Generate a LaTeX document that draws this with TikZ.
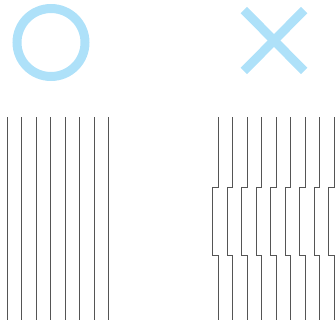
\documentclass[tikz,border=0pt]{standalone}
\definecolor{markblue}{RGB}{174,225,249}
\definecolor{linegray}{RGB}{85,85,85}
\begin{document}
\begin{tikzpicture}[x=1pt,y=-1pt,
  symbolstroke/.style={draw=markblue,line width=9pt},
  wire/.style={draw=linegray,line width=1pt}]
\useasboundingbox (0,0) rectangle (336,322);
% circle (good)
\path[symbolstroke] (51,42.5) circle[radius=34];
% cross (bad)
\path[symbolstroke] (243.8,10) -- (304.2,71);
\path[symbolstroke] (243.8,71) -- (304.2,10);
% straight wires
\foreach \i in {0,...,7}{
  \path[wire] ({7.3+14.47*\i},117) -- ({7.3+14.47*\i},320);
}
% jogged wires
\foreach \i in {0,...,8}{
  \pgfmathsetmacro{\xx}{218.3+14.47*\i}
  \path[wire] (\xx,117) -- (\xx,187.5) -- (\xx-5.5,187.5) -- (\xx-5.5,255.5) -- (\xx,255.5) -- (\xx,320);
}
\end{tikzpicture}
\end{document}
